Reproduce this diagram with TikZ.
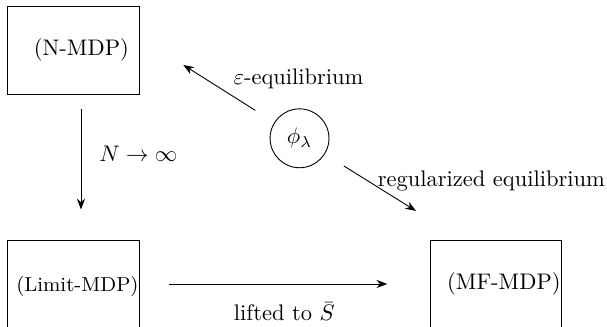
\documentclass[tikz,border=0pt]{standalone}
\usepackage{amsmath,amssymb}
\usepackage{tikz}
\usetikzlibrary{arrows.meta,positioning}
\begin{document}
\begin{tikzpicture}[mdp/.style={draw,minimum width=2.05cm,text width=2.05cm,minimum height=1.375cm,inner sep=0pt,align=center},>=Stealth]
\useasboundingbox (0,0) rectangle (9.484,5.109);
\clip (0,0) rectangle (9.484,5.109);
\node[mdp] (nmdp) at (1.148,4.328) {\hspace*{7pt}\mbox{(N-MDP)}};
\node[mdp,minimum height=1.453cm,font=\small] (limit) at (1.148,0.633) {\hspace*{3.5pt}\mbox{(Limit-MDP)}};
\node[mdp] (mf) at (7.755,0.672) {\hspace*{6.7pt}\mbox{(MF-MDP)}};
\node[draw,circle,minimum size=0.92cm,inner sep=0pt] (phi) at (4.680,2.948) {$\phi_\lambda$};
\coordinate (epsend) at (2.864,4.094);
\coordinate (regend) at (6.500,1.813);
\node (ninf) at (2.161,2.703) {$N\to\infty$};
\node (epslbl) at (4.664,3.869) {$\varepsilon$-equilibrium};
\node (reglbl) at (7.677,2.281) {regularized equilibrium};
\node (lift) at (4.442,0.239) {lifted to $\bar S$};
\draw[->,shorten <=0.223cm,shorten >=0.469cm] ([xshift=0.117cm]nmdp.south) -- ([xshift=0.117cm]limit.north);
\draw[->,shorten <=0.458cm,shorten >=0.672cm] (limit.east |- mf.west) -- (mf.west);
\draw[->,shorten <=0.35cm] (phi) -- (epsend);
\draw[->,shorten <=0.35cm] (phi) -- (regend);
\end{tikzpicture}
\end{document}
